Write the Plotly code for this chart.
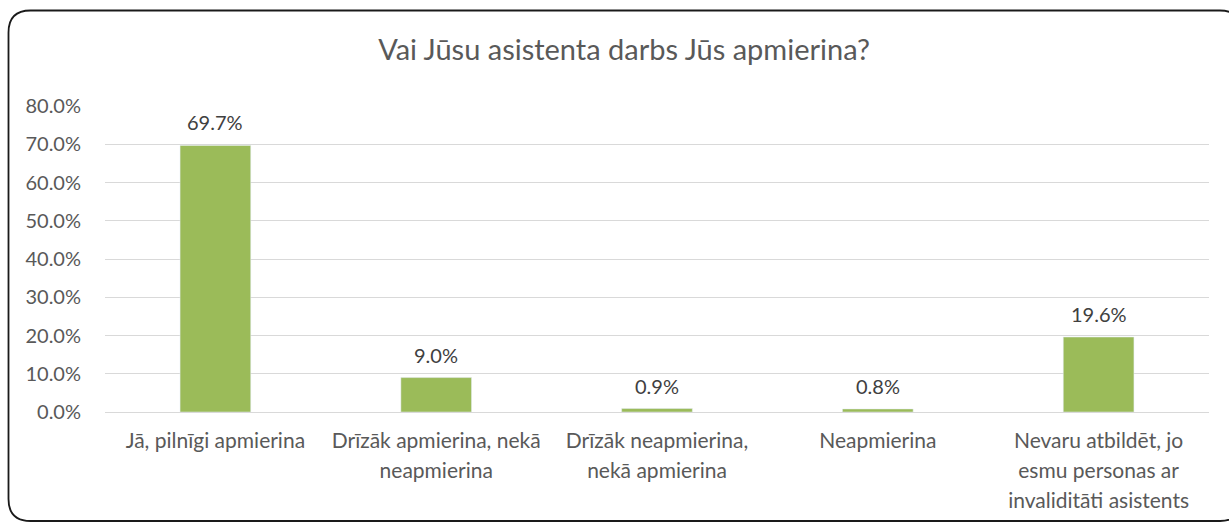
import plotly.graph_objects as go

categories = [
    "Jā, pilnīgi apmierina",
    "Drīzāk apmierina, nekā neapmierina",
    "Drīzāk neapmierina, nekā apmierina",
    "Neapmierina",
    "Nevaru atbildēt, jo esmu personas ar invaliditāti asistents",
]
category_lines = [
    ["Jā, pilnīgi apmierina"],
    ["Drīzāk apmierina, nekā", "neapmierina"],
    ["Drīzāk neapmierina,", "nekā apmierina"],
    ["Neapmierina"],
    ["Nevaru atbildēt, jo", "esmu personas ar", "invaliditāti asistents"],
]
values = [0.697, 0.090, 0.009, 0.008, 0.196]
value_labels = ["69.7%", "9.0%", "0.9%", "0.8%", "19.6%"]
y_ticks = [0, 0.1, 0.2, 0.3, 0.4, 0.5, 0.6, 0.7, 0.8]
title_text = "Vai Jūsu asistenta darbs Jūs apmierina?"

FONT = "Lato, Open Sans, sans-serif"
TXT = "#595959"
LBL = 20
XLBL = 21

W, H = 1229, 524
ml, mr, mt, mb = 105, 20, 106, 112
pw, ph = W - ml - mr, H - mt - mb

ticktext = ["<br>".join(f"<span style='font-size:{XLBL}px'>{ln}</span>" for ln in lines)
            for lines in category_lines]

fig = go.Figure(go.Bar(
    x=categories, y=values,
    marker_color="#9BBB59",
    width=0.32,
    hoverinfo="x+y",
))

for c, v, t in zip(categories, values, value_labels):
    fig.add_annotation(x=c, y=v, text=t, showarrow=False, yanchor="bottom", yshift=9,
                       font=dict(family=FONT, size=LBL, color="#404040"))

def px2paper_x(px):
    return (px - ml) / pw

def px2paper_y(py):
    return (H - mb - py) / ph

# rounded border (right side extends beyond the image)
L, R, T, B = 8.5, 1242, 10.5, 521
r = 22
def P(x, y):
    return f"{px2paper_x(x):.5f},{px2paper_y(y):.5f}"
path = (f"M {P(L, T + r)} Q {P(L, T)} {P(L + r, T)} L {P(R - r, T)} Q {P(R, T)} {P(R, T + r)} "
        f"L {P(R, B - r)} Q {P(R, B)} {P(R - r, B)} L {P(L + r, B)} Q {P(L, B)} {P(L, B - r)} Z")

fig.update_layout(
    width=W, height=H,
    margin=dict(l=ml, r=mr, t=mt, b=mb),
    paper_bgcolor="white", plot_bgcolor="white",
    showlegend=False,
    title=dict(text=title_text, x=624 / W, xanchor="center", y=1 - 50 / H, yanchor="middle",
               font=dict(family=FONT, size=29, color=TXT)),
    xaxis=dict(
        tickvals=categories, ticktext=ticktext,
        tickfont=dict(family=FONT, size=23, color=TXT),
        showgrid=False, showline=False, ticks="", zeroline=False,
        ticklabelstandoff=12,
    ),
    yaxis=dict(
        range=[0, 0.8],
        tickvals=y_ticks, tickformat=".1%",
        tickfont=dict(family=FONT, size=LBL, color=TXT),
        showgrid=True, gridcolor="#D9D9D9", gridwidth=1.3,
        zeroline=True, zerolinecolor="#D9D9D9", zerolinewidth=1.3,
        showline=False, ticks="", ticklabelstandoff=23,
    ),
    shapes=[dict(type="path", path=path, xref="paper", yref="paper",
                 line=dict(color="#1a1a1a", width=1.8), layer="above")],
)

fig.write_html("out.html", config={"displayModeBar": False},
               post_script="document.body.style.margin='0';document.body.style.overflow='hidden';")
